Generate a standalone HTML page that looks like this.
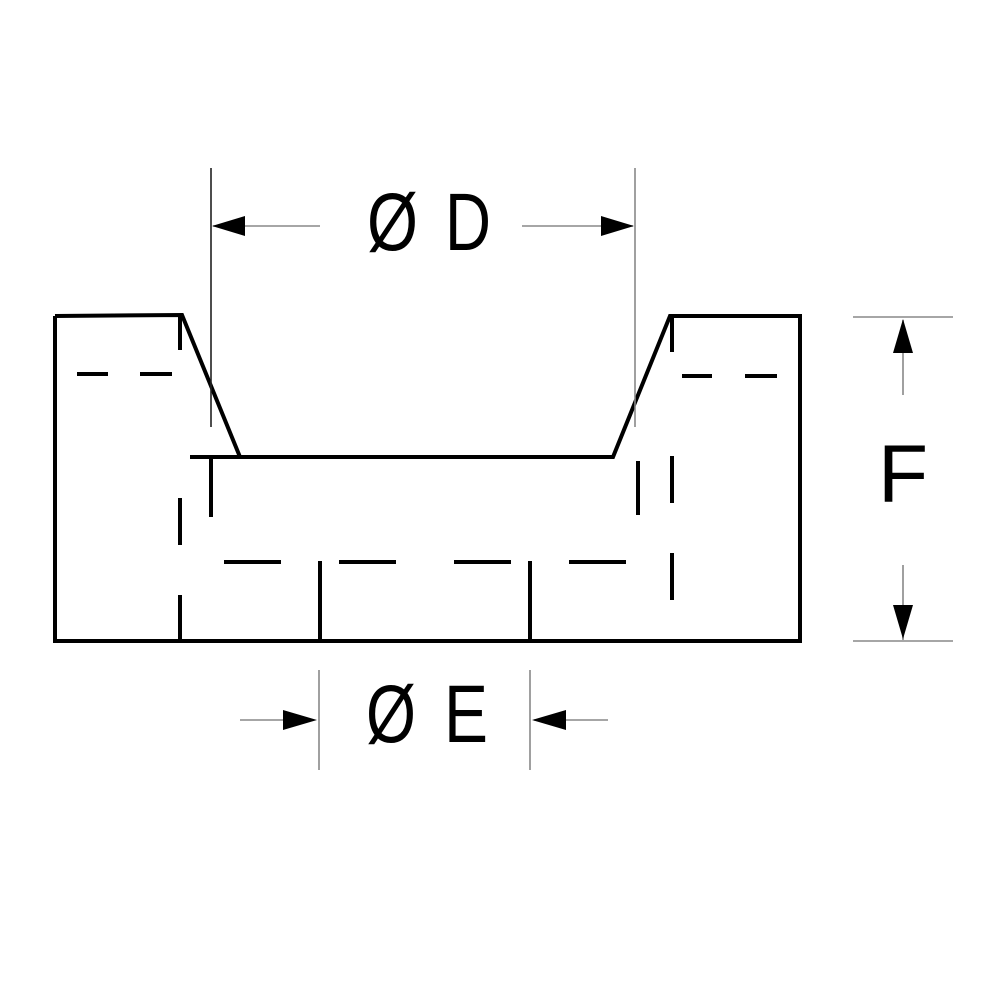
<!DOCTYPE html>
<html><head><style>html,body{margin:0;padding:0;background:#fff}svg{display:block}</style></head>
<body>
<svg width="1000" height="1000" viewBox="0 0 1000 1000" xmlns="http://www.w3.org/2000/svg">
<g stroke="#000" stroke-width="4" fill="none" stroke-linecap="butt" stroke-linejoin="miter">
<polyline points="55,316 55,641 800,641 800,316 670,316 613,457 190,457"/>
<polyline points="55,316 182,315 240,457"/>
<line x1="180" y1="315" x2="180" y2="350"/>
<line x1="77" y1="374" x2="108" y2="374"/>
<line x1="140" y1="374" x2="172" y2="374"/>
<line x1="180" y1="498" x2="180" y2="545"/>
<line x1="180" y1="595" x2="180" y2="641"/>
<line x1="211" y1="458" x2="211" y2="517"/>
<line x1="224" y1="562" x2="281" y2="562"/>
<line x1="339" y1="562" x2="396" y2="562"/>
<line x1="454" y1="562" x2="511" y2="562"/>
<line x1="569" y1="562" x2="626" y2="562"/>
<line x1="320" y1="561" x2="320" y2="641"/>
<line x1="530" y1="561" x2="530" y2="641"/>
<line x1="672" y1="316" x2="672" y2="352"/>
<line x1="682" y1="376" x2="712" y2="376"/>
<line x1="745" y1="376" x2="777" y2="376"/>
<line x1="638" y1="461" x2="638" y2="515"/>
<line x1="672" y1="456" x2="672" y2="503"/>
<line x1="672" y1="553" x2="672" y2="600"/>
</g>
<g stroke="#888" stroke-width="1.6">
<line x1="211" y1="168" x2="211" y2="427" stroke="#222"/>
<line x1="635" y1="168" x2="635" y2="427"/>
<line x1="213" y1="226" x2="320" y2="226"/>
<line x1="522" y1="226" x2="633" y2="226"/>
<line x1="319" y1="670" x2="319" y2="770"/>
<line x1="530" y1="670" x2="530" y2="770"/>
<line x1="240" y1="720" x2="313" y2="720"/>
<line x1="534" y1="720" x2="608" y2="720"/>
<line x1="853" y1="317" x2="953" y2="317"/>
<line x1="853" y1="641" x2="953" y2="641"/>
<line x1="903" y1="320" x2="903" y2="395"/>
<line x1="903" y1="565" x2="903" y2="640"/>
</g>
<g fill="#000">
<polygon points="212,226 245,216 245,236"/>
<polygon points="634,226 601,216 601,236"/>
<polygon points="317,720 283,710 283,730"/>
<polygon points="532,720 566,710 566,730"/>
<polygon points="903,319 893,353 913,353"/>
<polygon points="903,639 893,605 913,605"/>
</g>
<g font-family="Liberation Sans, sans-serif" font-size="82" fill="#000">
<text x="367" y="250" textLength="51" lengthAdjust="spacingAndGlyphs">Ø</text>
<text x="445" y="250" textLength="46" lengthAdjust="spacingAndGlyphs">D</text>
<text x="366" y="742" textLength="50" lengthAdjust="spacingAndGlyphs">Ø</text>
<text x="444" y="742" textLength="44" lengthAdjust="spacingAndGlyphs">E</text>
<text x="903" y="502" text-anchor="middle">F</text>
</g>
</svg>
</body></html>
